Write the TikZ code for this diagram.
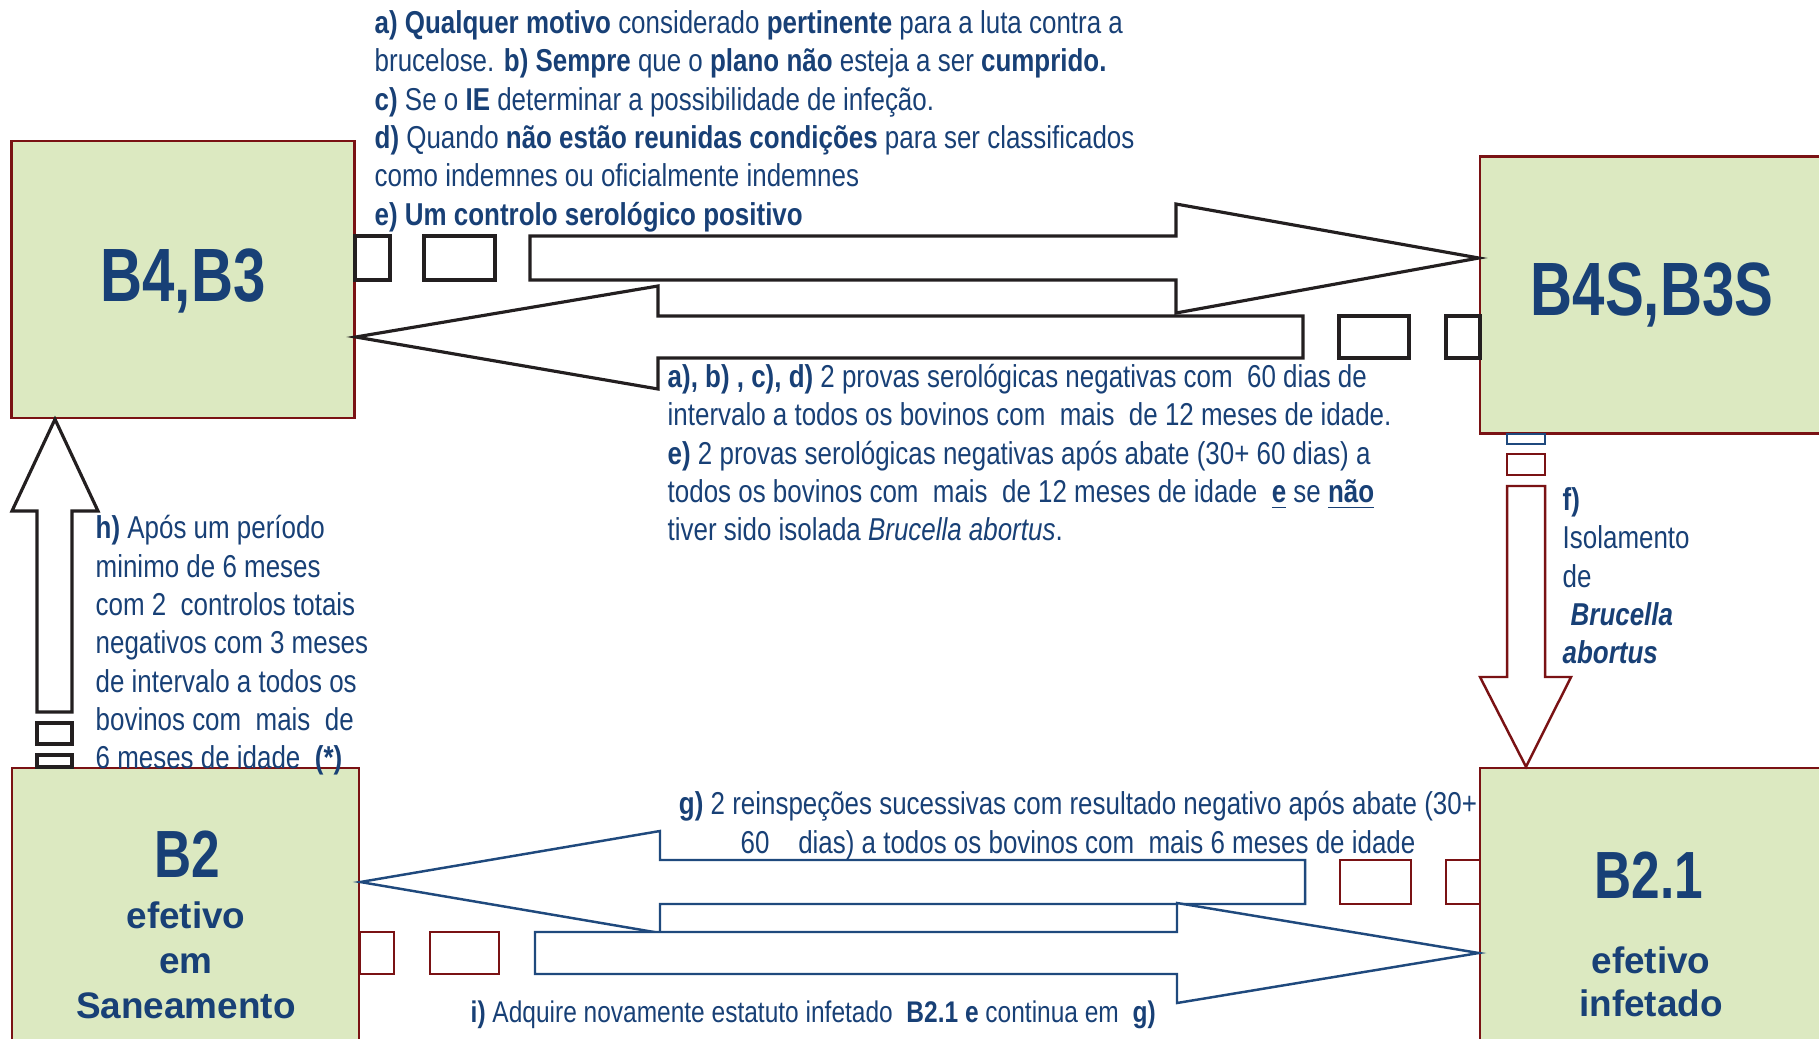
\documentclass[tikz,border=0pt]{standalone}
\usepackage{fontspec}
\setmainfont[FakeStretch=0.82]{Liberation Sans}
\newfontfamily\labelfont[FakeStretch=0.77]{Liberation Sans}
\newfontfamily\widefont{Liberation Sans}
\usetikzlibrary{calc}

\definecolor{navy}{RGB}{24,64,118}
\definecolor{boxgreen}{RGB}{220,233,193}
\definecolor{boxred}{RGB}{122,18,20}
\definecolor{arrowblue}{RGB}{31,73,125}
\definecolor{arrowblack}{RGB}{35,31,32}

\tikzset{
	estado/.style={draw=boxred, fill=boxgreen, line width=0.7pt, minimum width=3.43cm, minimum height=2.77cm, inner sep=0pt},
	rotulo/.style={text=navy, font=\labelfont\bfseries\fontsize{21.5}{24}\selectfont, inner sep=0pt, anchor=base},
	subrotulo/.style={text=navy, font=\widefont\bfseries\fontsize{10.5}{12.8}\selectfont, inner sep=0pt, anchor=base, align=center},
	nota/.style={text=navy, font=\fontsize{9}{10.9}\selectfont, inner sep=0pt, align=left, anchor=base west},
	setanegra/.style={draw=arrowblack, fill=white, line width=0.9pt},
	setaazul/.style={draw=arrowblue, fill=white, line width=0.7pt},
	setavermelha/.style={draw=boxred, fill=white, line width=0.7pt}
}

\begin{document}
\begin{tikzpicture}
			%%%%% START %%%%%
			\useasboundingbox (0, 0) rectangle (18.19, 10.38);
			
			\node[estado] (b4b3) at (1.83, 7.585) {};
			\node[estado, minimum width=3.44cm] (b4s) at (16.52, 7.43) {};
			\node[estado, minimum width=3.47cm] (b2) at (1.855, 1.315) {};
			\node[estado, minimum width=3.44cm] (b21) at (16.52, 1.315) {};
			
			% B4,B3 -> B4S,B3S
			\draw[setanegra] (3.55, 7.58) rectangle (3.90, 8.02);
			\draw[setanegra] (4.24, 7.58) rectangle (4.95, 8.02);
			\draw[setanegra] (5.30, 8.02) -- (11.76, 8.02) -- (11.76, 8.34) -- (b4s.west |- 0, 7.80) -- (11.76, 7.25) -- (11.76, 7.58) -- (5.30, 7.58) -- cycle;
			
			% B4S,B3S -> B4,B3
			\draw[setanegra] (14.46, 6.80) rectangle (14.80, 7.22);
			\draw[setanegra] (13.39, 6.80) rectangle (14.09, 7.22);
			\draw[setanegra] (13.03, 7.22) -- (6.58, 7.22) -- (6.58, 7.52) -- (b4b3.east |- 0, 7.01) -- (6.58, 6.49) -- (6.58, 6.80) -- (13.03, 6.80) -- cycle;
			
			% B2 -> B4,B3
			\draw[setanegra] (0.37, 2.71) rectangle (0.72, 2.83);
			\draw[setanegra] (0.37, 2.94) rectangle (0.72, 3.15);
			\draw[setanegra] (0.37, 3.26) -- (0.37, 5.27) -- (0.12, 5.27) -- (0.55, 0 |- b4b3.south) -- (0.98, 5.27) -- (0.72, 5.27) -- (0.72, 3.26) -- cycle;
			
			% B4S,B3S -> B2.1
			\draw[setaazul] (15.07, 5.94) rectangle (15.45, 6.04);
			\draw[setavermelha] (15.07, 5.63) rectangle (15.45, 5.84);
			\draw[setavermelha] (15.07, 5.52) -- (15.07, 3.61) -- (14.80, 3.61) -- (15.26, 0 |- b21.north) -- (15.71, 3.61) -- (15.45, 3.61) -- (15.45, 5.52) -- cycle;
			
			% B2.1 -> B2
			\draw[setavermelha] (14.46, 1.34) rectangle (14.80, 1.78);
			\draw[setavermelha] (13.40, 1.34) rectangle (14.11, 1.78);
			\draw[setaazul] (13.05, 1.78) -- (6.60, 1.78) -- (6.60, 2.07) -- (b2.east |- 0, 1.56) -- (6.60, 1.05) -- (6.60, 1.34) -- (13.05, 1.34) -- cycle;
			
			% B2 -> B2.1
			\draw[setavermelha] (3.60, 0.64) rectangle (3.94, 1.06);
			\draw[setavermelha] (4.30, 0.64) rectangle (4.99, 1.06);
			\draw[setaazul] (5.35, 1.06) -- (11.77, 1.06) -- (11.77, 1.35) -- (b21.west |- 0, 0.85) -- (11.77, 0.35) -- (11.77, 0.64) -- (5.35, 0.64) -- cycle;
			
			% estados
			\node[rotulo] (rotb4b3) at (1.83, 7.37) {B4,B3};
			\node[rotulo] (rotb4s) at (16.52, 7.23) {B4S,B3S};
			\node[rotulo, font=\labelfont\bfseries\fontsize{19}{22}\selectfont] (rotb2) at (1.87, 1.61) {B2};
			\node[subrotulo] (subb2) at (1.86, 0.197) {efetivo\\em\\Saneamento};
			\node[rotulo, font=\labelfont\bfseries\fontsize{19}{22}\selectfont] (rotb21) at (16.49, 1.40) {B2.1};
			\node[subrotulo, font=\widefont\bfseries\fontsize{10.5}{12.2}\selectfont] (subb21) at (16.51, 0.22) {efetivo\\infetado};
			
			% condicoes (ancora na ultima linha)
			\node[nota] (notaae) at (3.74, 8.128) {\textbf{a) Qualquer motivo} considerado \textbf{pertinente} para a luta contra a\\
				brucelose. \textbf{b) Sempre} que o \textbf{plano não} esteja a ser \textbf{cumprido.}\\
				\textbf{c)} Se o \textbf{IE} determinar a possibilidade de infeção.\\
				\textbf{d)} Quando \textbf{não estão reunidas condições} para ser classificados\\
				como indemnes ou oficialmente indemnes\\
				\textbf{e) Um controlo serológico positivo}};
			\node[nota] (notaprovas) at (6.67, 4.972) {\textbf{a), b) , c), d)} 2 provas serológicas negativas com\ \ 60 dias de\\
				intervalo a todos os bovinos com\ \ mais\ \ de 12 meses de idade.\\
				\textbf{e)} 2 provas serológicas negativas após abate (30+ 60 dias) a\\
				todos os bovinos com\ \ mais\ \ de 12 meses de idade\ \ \underline{\textbf{e}} se \underline{\textbf{não}}\\
				tiver sido isolada \textit{Brucella abortus}.};
			\node[nota] (notah) at (0.95, 2.693) {\textbf{h)} Após um período\\ minimo de 6 meses\\ com 2\ \ controlos totais\\ negativos com 3 meses\\ de intervalo a todos os\\ bovinos com\ \ mais\ \ de\\ 6 meses de idade\ \ \textbf{(*)}};
			\node[nota] (notaf) at (15.62, 3.742) {\textbf{f)}\\ Isolamento\\ de\\ \hspace{0.08cm}\textbf{\textit{Brucella}}\\ \textbf{\textit{abortus}}};
			\node[nota, anchor=base, align=center] (notag) at (10.78, 1.85) {\textbf{g)} 2 reinspeções sucessivas com resultado negativo após abate (30+\\ 60\ \ \ \ dias) a todos os bovinos com\ \ mais 6 meses de idade};
			\node[nota, font=\fontsize{8.5}{10}\selectfont] (notai) at (4.70, 0.16) {\textbf{i)} Adquire novamente estatuto infetado\ \ \textbf{B2.1 e} continua em\ \ \textbf{g)}};
			
			%%%%% END %%%%%
\end{tikzpicture}
\end{document}
